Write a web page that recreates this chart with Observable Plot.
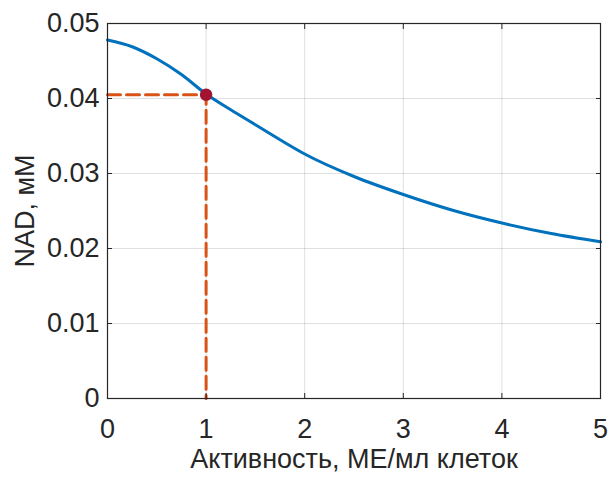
<!DOCTYPE html>
<html>
<head>
<meta charset="utf-8">
<script src="https://cdn.jsdelivr.net/npm/d3@7"></script>
<script src="https://cdn.jsdelivr.net/npm/@observablehq/plot@0.6"></script>
<style>
  html, body { margin: 0; padding: 0; background: #fff; }
  svg { display: block; }
</style>
</head>
<body>
<div id="chart"></div>
<script>
// Curve data
const activity = [0, 0.25, 0.5, 0.75, 1, 1.25, 1.5, 1.75, 2, 2.5, 3, 3.5, 4, 4.5, 5];
const nad = [0.0478, 0.0469, 0.0453, 0.0432, 0.0406, 0.0385, 0.0365, 0.0345, 0.0326, 0.0296, 0.0272, 0.0251, 0.0234, 0.0220, 0.0209];

// Highlighted point
const pointX = [1];
const pointY = [0.0405];

// Ticks
const xTicks = [0, 1, 2, 3, 4, 5];
const yTicks = [0, 0.01, 0.02, 0.03, 0.04, 0.05];
const yTickLabels = ["0", "0.01", "0.02", "0.03", "0.04", "0.05"];

const xLabel = "Активность, МЕ/мл клеток";
const yLabel = "NAD, мМ";

const curve = activity.map((x, i) => ({x, y: nad[i]}));
const guide = [
  {x: 0, y: pointY[0]},
  {x: pointX[0], y: pointY[0]},
  {x: pointX[0], y: 0}
];
const pts = pointX.map((x, i) => ({x, y: pointY[i]}));

const ink = "#262626";
const font = "'Liberation Sans', Arial, Helvetica, sans-serif";

const chart = Plot.plot({
  width: 608,
  height: 479,
  marginLeft: 107,
  marginRight: 8,
  marginTop: 23,
  marginBottom: 81,
  style: {fontFamily: font, color: ink, background: "#fff"},
  x: {domain: [0, 5]},
  y: {domain: [0, 0.05]},
  marks: [
    Plot.gridX(xTicks, {stroke: ink, strokeOpacity: 0.15, strokeWidth: 1}),
    Plot.gridY(yTicks, {stroke: ink, strokeOpacity: 0.15, strokeWidth: 1}),
    Plot.line(guide, {x: "x", y: "y", stroke: "#D95319", strokeWidth: 3, strokeDasharray: "13,6"}),
    Plot.line(curve, {x: "x", y: "y", curve: "monotone-x", stroke: "#0072BD", strokeWidth: 3}),
    Plot.dot(pts, {x: "x", y: "y", r: 5.5, fill: "#A2142F", stroke: "#A2142F"}),
    Plot.frame({stroke: ink, strokeWidth: 1.2}),
    Plot.axisX(xTicks, {anchor: "bottom", tickSize: -5, tickPadding: 25, fontSize: 27, fill: ink, stroke: ink, label: null, tickFormat: d => String(d)}),
    Plot.axisX(xTicks, {anchor: "top", tickSize: -5, tickFormat: () => "", label: null, stroke: ink}),
    Plot.axisY(yTicks, {anchor: "left", tickSize: -5, tickPadding: 13, fontSize: 27, fill: ink, stroke: ink, label: null, tickFormat: (d, i) => yTickLabels[yTicks.indexOf(d)]}),
    Plot.axisY(yTicks, {anchor: "right", tickSize: -5, tickFormat: () => "", label: null, stroke: ink}),
    Plot.text([xLabel], {frameAnchor: "bottom", text: d => d, dy: 61, fontSize: 27, fill: ink, lineAnchor: "middle", textAnchor: "middle"}),
    Plot.text([yLabel], {frameAnchor: "left", text: d => d, dx: -82, rotate: -90, fontSize: 27, fill: ink, lineAnchor: "middle", textAnchor: "middle"})
  ]
});
document.getElementById("chart").appendChild(chart);
</script>
</body>
</html>
